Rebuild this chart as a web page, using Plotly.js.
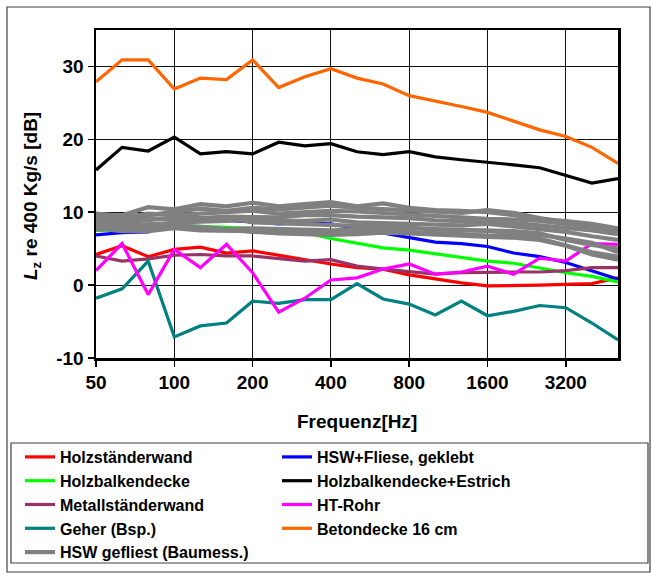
<!DOCTYPE html>
<html>
<head>
<meta charset="utf-8">
<script src="https://cdn.plot.ly/plotly-3.0.1.min.js"></script>
<style>html,body{margin:0;padding:0;background:#fff;}#chart{width:651px;height:574px;}</style>
</head>
<body>
<div id="chart"></div>
<script>
// Terzband-Frequenzen [Hz]
const frequencies = ['50','63','80','100','125','160','200','250','315','400','500','630','800','1000','1250','1600','2000','2500','3150','4000','5000'];
const tickValues = ['50','100','200','400','800','1600','3150'];
const tickLabels = ['50','100','200','400','800','1600','3200'];
const yTickValues = [-10, 0, 10, 20, 30];
const yTickLabels = ['-10', '0', '10', '20', '30'];

const holzstaenderwand   = [4.2,5.4,3.9,4.9,5.2,4.4,4.7,4.1,3.4,2.9,2.4,2.2,1.4,0.8,0.3,-0.1,-0.1,0.0,0.1,0.2,1.0];
const hswFliese          = [6.9,7.2,7.3,8.4,9.0,8.9,8.7,8.4,8.5,8.4,7.8,7.2,6.5,5.9,5.7,5.3,4.4,3.9,3.1,1.9,0.8];
const holzbalkendecke    = [7.5,7.5,7.6,8.2,8.1,8.0,7.8,7.4,7.2,6.4,5.8,5.1,4.8,4.3,3.9,3.3,3.0,2.3,1.7,1.2,0.45];
const holzbalkenEstrich  = [15.8,18.9,18.4,20.3,18.0,18.3,18.0,19.6,19.1,19.4,18.3,17.9,18.3,17.6,17.2,16.9,16.5,16.1,15.0,14.0,14.6];
const metallstaenderwand = [4.0,3.3,3.6,4.1,4.2,4.0,4.0,3.7,3.3,3.5,2.6,2.2,1.9,1.5,1.7,1.8,1.8,1.8,2.0,2.4,2.4];
const htRohr             = [2.0,5.7,-1.3,4.9,2.4,5.6,1.7,-3.7,-1.8,0.7,1.0,2.2,2.9,1.5,1.8,2.6,1.5,3.7,3.3,5.7,5.6];
const geher              = [-1.8,-0.5,3.3,-7.1,-5.6,-5.2,-2.2,-2.5,-2.0,-2.0,0.2,-1.9,-2.6,-4.1,-2.2,-4.2,-3.6,-2.8,-3.1,-5.2,-7.5];
const betondecke         = [27.9,30.9,30.9,26.9,28.4,28.2,30.9,27.1,28.6,29.7,28.4,27.6,26.0,25.3,24.5,23.7,22.5,21.3,20.4,18.9,16.7];

// HSW gefliest (Baumessungen) – mehrere Kurven
const hswGefliest1 = [9.2,9.6,10.7,10.4,11.1,10.8,11.3,10.8,11.1,11.4,10.8,11.2,10.6,10.3,10.2,10.0,9.6,9.1,8.8,8.4,7.8];
const hswGefliest2 = [9.8,9.5,9.6,10.0,10.5,10.2,10.6,10.4,10.7,10.9,10.6,10.4,10.3,10.0,9.9,10.3,9.9,9.2,8.6,8.2,7.5];
const hswGefliest3 = [8.9,9.2,9.8,9.6,9.8,10.0,10.2,9.8,10.0,10.2,10.1,9.9,9.6,9.5,9.3,9.1,9.0,8.8,8.4,8.0,7.4];
const hswGefliest4 = [8.4,8.6,8.9,9.3,9.2,9.4,9.4,9.3,9.6,9.6,9.4,9.3,9.2,8.9,8.8,8.6,8.5,8.2,7.9,7.5,7.0];
const hswGefliest5 = [8.0,8.2,8.4,8.5,8.7,8.8,9.1,8.8,8.8,9.0,8.6,8.5,8.4,8.3,8.2,8.4,8.0,7.6,7.3,6.7,6.2];
const hswGefliest6 = [7.6,7.8,8.0,8.0,7.8,7.7,7.8,7.7,7.6,7.5,7.6,7.7,7.8,7.7,7.5,7.5,7.4,7.1,6.2,5.5,5.0];
const hswGefliest7 = [8.6,8.1,7.9,8.2,8.0,7.6,7.3,7.2,7.2,7.1,7.2,7.4,7.3,7.2,7.0,6.8,6.7,6.4,5.5,4.5,3.9];
const hswGefliest8 = [7.8,7.4,7.4,7.8,7.5,7.4,7.4,7.1,7.0,6.9,7.0,7.2,7.1,7.0,6.8,6.6,6.5,6.2,5.4,4.2,3.5];
const hswGefliest9 = [9.4,9.0,9.2,9.0,9.0,9.2,8.6,8.5,8.4,8.3,8.2,8.0,7.9,7.6,7.6,7.4,7.2,6.9,6.4,5.8,4.5];
const hswGefliestAll = [hswGefliest1,hswGefliest2,hswGefliest3,hswGefliest4,hswGefliest5,hswGefliest6,hswGefliest7,hswGefliest8,hswGefliest9];

const yTitle = '<i>L</i><sub>z</sub> re 400 Kg/s [dB]';
const xTitle = 'Frequenz[Hz]';

const FONT = 'Liberation Sans, Arial, sans-serif';
const W = 651, H = 574;
const M = {l: 96, r: 33, t: 30, b: 216, autoexpand: false};
const PW = W - M.l - M.r, PH = H - M.t - M.b;
const px = x => (x - M.l) / PW;
const py = y => (H - M.b - y) / PH;

function line(name, y, color, legend, show, width) {
  return {
    type: 'scatter', mode: 'lines', x: frequencies, y: y, name: name,
    line: {color: color, width: width || 3.2},
    legend: legend, showlegend: show !== false, hoverinfo: 'skip'
  };
}

const traces = [
  line('Holzständerwand', holzstaenderwand, '#FF0000', 'legend'),
  line('HSW+Fliese, geklebt', hswFliese, '#0000FF', 'legend2'),
  line('Holzbalkendecke', holzbalkendecke, '#00FF00', 'legend'),
  line('Holzbalkendecke+Estrich', holzbalkenEstrich, '#000000', 'legend2'),
  line('Metallständerwand', metallstaenderwand, '#993366', 'legend'),
  line('Geher (Bsp.)', geher, '#008080', 'legend'),
  line('HT-Rohr', htRohr, '#FF00FF', 'legend2'),
  line('Betondecke 16 cm', betondecke, '#FF6600', 'legend2')
];
hswGefliestAll.forEach((s, i) => {
  traces.push(line('HSW gefliest (Baumess.)', s, '#808080', 'legend', i === 0, 4.2));
});

const legendFont = {family: FONT, size: 16, color: '#000', weight: 'bold'};
const titleFont = {family: FONT, size: 19, weight: 'bold', color: '#000'};
const tickFont = {family: FONT, size: 19, weight: 'bold', color: '#000'};
const layout = {
  width: W, height: H,
  margin: M,
  paper_bgcolor: '#fff', plot_bgcolor: '#fff',
  font: {family: FONT, color: '#000'},
  xaxis: {
    type: 'category', range: [0, 20],
    tickmode: 'array', tickvals: tickValues, ticktext: tickLabels,
    tickfont: tickFont,
    ticks: 'outside', ticklen: 6, tickwidth: 1.5, tickcolor: '#000', tickangle: 0,
    showgrid: true, gridcolor: '#111', gridwidth: 1,
    showline: true, linecolor: '#000', linewidth: 2.5, mirror: true,
    title: {text: ''}
  },
  yaxis: {
    range: [-10, 35], tickmode: 'array', tickvals: yTickValues, ticktext: yTickLabels,
    tickfont: tickFont,
    ticks: 'outside', ticklen: 6, tickwidth: 1.5, tickcolor: '#000',
    showgrid: true, gridcolor: '#111', gridwidth: 1, zeroline: false,
    showline: true, linecolor: '#000', linewidth: 2.5, mirror: true,
    title: {text: ''}
  },
  annotations: [
    {text: yTitle, xref: 'paper', yref: 'paper', x: px(32), y: py(196),
     xanchor: 'center', yanchor: 'middle', textangle: -90, showarrow: false, font: titleFont},
    {text: xTitle, xref: 'paper', yref: 'paper', x: px(357), y: py(421),
     xanchor: 'center', yanchor: 'middle', showarrow: false, font: titleFont}
  ],
  legend: {
    xref: 'container', yref: 'container', x: 20 / W, y: 1 - 440 / H,
    xanchor: 'left', yanchor: 'top', orientation: 'v', traceorder: 'normal',
    bgcolor: 'rgba(0,0,0,0)', borderwidth: 0, font: legendFont, itemwidth: 30
  },
  legend2: {
    xref: 'container', yref: 'container', x: 277 / W, y: 1 - 440 / H,
    xanchor: 'left', yanchor: 'top', orientation: 'v', traceorder: 'normal',
    bgcolor: 'rgba(0,0,0,0)', borderwidth: 0, font: legendFont, itemwidth: 30
  },
  shapes: [
    {type: 'rect', xref: 'paper', yref: 'paper', x0: px(7), x1: px(650), y0: py(572), y1: py(7),
     line: {color: '#404040', width: 1.2}, fillcolor: 'rgba(0,0,0,0)', layer: 'below'},
    {type: 'rect', xref: 'paper', yref: 'paper', x0: px(11), x1: px(648), y0: py(563), y1: py(443),
     line: {color: '#404040', width: 1.2}, fillcolor: 'rgba(0,0,0,0)', layer: 'below'}
  ],
  showlegend: true
};

Plotly.newPlot('chart', traces, layout, {staticPlot: true, displayModeBar: false});
</script>
</body>
</html>
